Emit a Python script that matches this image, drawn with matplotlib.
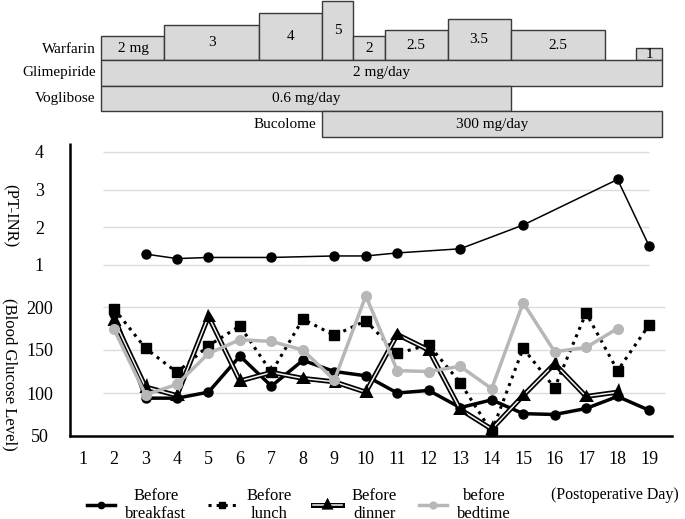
import matplotlib.pyplot as plt
import matplotlib.patheffects as pe
from matplotlib.lines import Line2D

plt.rcParams['font.family'] = ['Liberation Serif', 'DejaVu Serif']

# postoperative days on the x axis
days = list(range(1, 20))

# PT-INR
inr_days = [3, 4, 5, 7, 9, 10, 11, 13, 15, 18, 19]
inr = [1.29, 1.17, 1.20, 1.20, 1.24, 1.24, 1.32, 1.43, 2.06, 3.27, 1.51]

# blood glucose (mg/dL)
bf_days = list(range(2, 20))
breakfast = [192, 94, 94, 101, 143, 108, 138, 125, 120, 100, 103, 83, 92, 76, 75, 82, 96, 80]
lunch = [198, 152, 124, 155, 178, 124, 186, 167, 184, 146, 156, 112, 55, 152, 106, 193, 126, 179]
dn_days = list(range(2, 19))
dinner = [185, 107, 97, 189, 114, 124, 117, 113, 101, 168, 150, 81, 58, 97, 134, 96, 101]
bedtime = [174, 98, 110, 146, 162, 160, 150, 115, 213, 126, 125, 131, 105, 205, 148, 153, 175]

# warfarin schedule
warf_dose = [2, 3, 4, 5, 2, 2.5, 3.5, 2.5, 1]
warf_start = [2, 4, 7, 9, 10, 11, 13, 15, 19]
warf_end = [3, 6, 8, 9, 10, 12, 14, 17, 19]
warf_labels = ['2 mg', '3', '4', '5', '2', '2.5', '3.5', '2.5', '1']

# other drugs
drugs = ['Glimepiride', 'Voglibose', 'Bucolome']
drug_start = [2, 2, 9]
drug_end = [19, 14, 19]
drug_labels = ['2 mg/day', '0.6 mg/day', '300 mg/day']

W, H = 685, 519
fig = plt.figure(figsize=(W / 100, H / 100), dpi=100)


def box(px_left, px_top, px_right, px_bottom):
    return [px_left / W, 1 - px_bottom / H, (px_right - px_left) / W, (px_bottom - px_top) / H]


XLIM = (0.6, 19.73)
RIGHT_EDGE = 19.4
FILL = '#d9d9d9'
EDGE = '#3a3a3a'
GRID = '#dcdcdc'


def edges(s, e):
    return s - 0.4, min(e + 0.6, RIGHT_EDGE)


# ---- warfarin boxes
ax_w = fig.add_axes(box(70, 0, 672, 60))
for d, s, e, lab in zip(warf_dose, warf_start, warf_end, warf_labels):
    l, r = edges(s, e)
    ax_w.bar((l + r) / 2, d, width=r - l, bottom=0, color=FILL, edgecolor=EDGE, lw=1, clip_on=False)
    ax_w.text((l + r) / 2, d / 2, lab, ha='center', va='center', fontsize=11)
ax_w.text(1.6 - 0.18, 0.85, 'Warfarin', ha='right', va='center', fontsize=11)
ax_w.set_xlim(XLIM)
ax_w.set_ylim(0, 5.08)
ax_w.axis('off')

# ---- other drugs rows
ax_r = fig.add_axes(box(70, 60, 672, 137))
for i, (name, s, e, lab) in enumerate(zip(drugs, drug_start, drug_end, drug_labels)):
    l, r = edges(s, e)
    y = 2.5 - i
    ax_r.barh(y, r - l, left=l, height=1, color=FILL, edgecolor=EDGE, lw=1, clip_on=False)
    ax_r.text((l + r) / 2, y, lab, ha='center', va='center', fontsize=11)
    ax_r.text(l - 0.18, y, name, ha='right', va='center', fontsize=11)
ax_r.set_xlim(XLIM)
ax_r.set_ylim(0, 3)
ax_r.axis('off')

# ---- PT-INR
ax_i = fig.add_axes(box(70, 143, 672, 280))
ax_i.set_facecolor('none')
ax_i.hlines([1, 2, 3, 4], 1.65, 19.0, color=GRID, lw=1, zorder=0)
ax_i.plot(inr_days, inr, color='black', lw=1.1, marker='o', ms=6.5)
ax_i.set_xlim(XLIM)
ax_i.set_ylim(1 - 15 / 37.7, 4.236)
ax_i.set_yticks([1, 2, 3, 4])
ax_i.set_xticks([])
for sp in ['top', 'right', 'bottom', 'left']:
    ax_i.spines[sp].set_visible(False)

# ---- blood glucose
ax_g = fig.add_axes(box(70, 280, 672, 436))
ax_g.set_facecolor('none')
ax_g.hlines([100, 150, 200], 1.65, 19.5, color=GRID, lw=1, zorder=0)
l_b, = ax_g.plot(bf_days, breakfast, color='black', lw=2.5, marker='o', ms=6.5)
l_l, = ax_g.plot(bf_days, lunch, color='black', lw=2.2, ls=':', marker='s', ms=6.5)
l_d, = ax_g.plot(dn_days, dinner, color='#f2f2f2', lw=1.1, marker='^', ms=4, mfc='black', mec='black',
                 path_effects=[pe.Stroke(linewidth=3.6, foreground='black'), pe.Normal()])
l_bed, = ax_g.plot(dn_days, bedtime, color='#b7b7b7', lw=2.5, marker='o', ms=7)
ax_g.set_xlim(XLIM)
ax_g.set_ylim(50, 50 + 156 / 0.86)
ax_g.set_yticks([50, 100, 150, 200])
ax_g.set_xticks(days)
for sp in ['top', 'right', 'left']:
    ax_g.spines[sp].set_visible(False)
ax_g.spines['bottom'].set_linewidth(1.8)

# one continuous left axis line shared by both panels
fig.add_artist(Line2D([70 / W, 70 / W], [1 - 143 / H, 1 - 437 / H], transform=fig.transFigure,
                      color='black', lw=1.8, solid_capstyle='butt'))

for ax in (ax_i, ax_g):
    ax.tick_params(axis='y', length=0, pad=22, labelsize=13)
    for t in ax.get_yticklabels():
        t.set_ha('center')
ax_g.tick_params(axis='x', length=0, pad=11, labelsize=13)

fig.text(10 / W, 1 - 216 / H, '(PT-INR)', rotation=-90, ha='center', va='center', fontsize=12)
fig.text(10 / W, 1 - 374 / H, '(Blood Glucose Level)', rotation=-90, ha='center', va='center', fontsize=12)

leg = fig.legend([l_b, l_l, l_d, l_bed],
                 ['Before\nbreakfast', 'Before\nlunch', 'Before\ndinner', 'before\nbedtime'],
                 loc='center left', bbox_to_anchor=(87 / W, 1 - 505 / H), ncol=4, frameon=False,
                 fontsize=12, handlelength=1.7, handletextpad=0.6, columnspacing=1.3,
                 borderpad=0, borderaxespad=0, numpoints=1, markerscale=0.7)
for t in leg.get_texts():
    t.set_multialignment('center')
fig.text(551 / W, 1 - 495 / H, '(Postoperative Day)', ha='left', va='center', fontsize=11.5)

fig.savefig('out.png', dpi=100)
